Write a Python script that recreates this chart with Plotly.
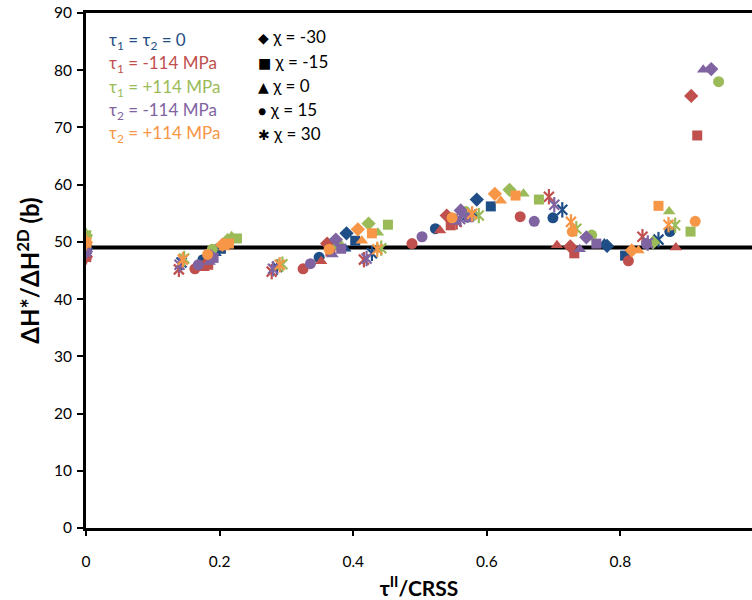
import plotly.graph_objects as go

# ---------------- data ----------------
CHI = [-30, -15, 0, 15, 30]
REF_LEVEL = 49

blue_x = [[0, 0.195, 0.39, 0.585, 0.78],
          [0, 0.202, 0.403, 0.606, 0.807],
          [0, 0.194, 0.388, 0.582, 0.776],
          [0, 0.175, 0.349, 0.523, 0.699, 0.874],
          [0, 0.143, 0.286, 0.428, 0.571, 0.713, 0.857]]
blue_y = [[48.8, 48.5, 51.5, 57.4, 49.3],
          [48.8, 48.8, 50.2, 56.2, 47.6],
          [48.8, 48.0, 48.8, 54.8, 49.7],
          [48.8, 46.9, 47.3, 52.3, 54.2, 51.8],
          [48.8, 46.4, 45.6, 48.0, 54.7, 55.6, 50.4]]

red_x = [[0, 0.181, 0.361, 0.54, 0.725, 0.906],
         [0, 0.183, 0.366, 0.546, 0.731, 0.915],
         [0, 0.176, 0.352, 0.53, 0.705, 0.883],
         [0, 0.163, 0.325, 0.488, 0.65, 0.812],
         [0, 0.139, 0.278, 0.416, 0.555, 0.693, 0.833]]
red_y = [[47.4, 46.3, 49.7, 54.6, 49.2, 75.5],
         [47.4, 46.0, 48.3, 52.9, 48.0, 68.6],
         [47.4, 45.4, 46.6, 52.0, 49.4, 49.0],
         [47.4, 45.3, 45.3, 49.7, 54.4, 46.7],
         [47.4, 45.2, 44.8, 46.9, 53.5, 57.9, 50.9]]

green_x = [[0, 0.212, 0.423, 0.634, 0.849],
           [0, 0.226, 0.452, 0.678, 0.905],
           [0, 0.218, 0.437, 0.655, 0.873],
           [0, 0.189, 0.378, 0.568, 0.757, 0.947],
           [0, 0.147, 0.294, 0.442, 0.588, 0.734, 0.882]]
green_y = [[51.1, 50.3, 53.2, 59.1, 49.9],
           [51.1, 50.6, 53.0, 57.4, 51.8],
           [51.1, 51.0, 51.6, 58.4, 55.3],
           [51.1, 48.7, 49.5, 55.3, 51.2, 78.0],
           [51.1, 47.1, 46.1, 48.9, 54.6, 52.3, 52.9]]

purple_x = [[0, 0.187, 0.374, 0.561, 0.749, 0.936],
            [0, 0.191, 0.382, 0.573, 0.764],
            [0, 0.185, 0.369, 0.554, 0.739, 0.924],
            [0, 0.168, 0.336, 0.503, 0.671, 0.839],
            [0, 0.14, 0.28, 0.42, 0.56, 0.701, 0.841]]
purple_y = [[48.3, 47.5, 50.4, 55.5, 50.8, 80.2],
            [48.3, 47.2, 48.8, 54.3, 49.7],
            [48.3, 46.5, 47.8, 53.5, 48.7, 80.1],
            [48.3, 46.0, 46.2, 50.9, 53.6, 49.7],
            [48.3, 46.0, 45.3, 47.1, 54.0, 56.5, 49.8]]

orange_x = [[0, 0.204, 0.407, 0.612, 0.817],
            [0, 0.214, 0.428, 0.643, 0.857],
            [0, 0.207, 0.413, 0.621, 0.827],
            [0, 0.182, 0.364, 0.548, 0.728, 0.912],
            [0, 0.145, 0.29, 0.436, 0.578, 0.726, 0.872]]
orange_y = [[49.9, 49.5, 52.2, 58.4, 48.5],
            [49.9, 49.7, 51.5, 58.1, 56.3],
            [49.9, 49.0, 50.2, 57.2, 48.5],
            [49.9, 47.8, 48.7, 54.2, 51.8, 53.6],
            [49.9, 46.9, 46.0, 48.7, 54.9, 53.5, 53.0]]

CASE_LABELS = ["τ<sub>1</sub> = τ<sub>2</sub> = 0",
               "τ<sub>1</sub> = -114 MPa",
               "τ<sub>1</sub> = +114 MPa",
               "τ<sub>2</sub> = -114 MPa",
               "τ<sub>2</sub> = +114 MPa"]
CHI_GLYPHS = ["◆", "■", "▲", "●", "✱"]
X_TICKS = [0, 0.2, 0.4, 0.6, 0.8]
X_TICK_TEXT = ["0", "0.2", "0.4", "0.6", "0.8"]
Y_TICKS = [0, 10, 20, 30, 40, 50, 60, 70, 80, 90]

# ---------------- styles ----------------
COLORS = ["#1F4E86", "#C0504D", "#9BBB59", "#8064A2", "#F79646"]
SERIES = [(blue_x, blue_y), (red_x, red_y), (green_x, green_y),
          (purple_x, purple_y), (orange_x, orange_y)]
SYMBOLS = {-30: ("diamond", 11), -15: ("square", 10), 0: ("triangle-up", 11),
           15: ("circle", 11)}
FONT = "Lato, Open Sans, DejaVu Sans, sans-serif"

fig = go.Figure()

# reference line
fig.add_trace(go.Scatter(x=[0, 1.0], y=[REF_LEVEL, REF_LEVEL], mode="lines",
                         line=dict(color="black", width=4), hoverinfo="skip",
                         showlegend=False))

for (sx, sy), col, lab in zip(SERIES, COLORS, CASE_LABELS):
    for k, chi in enumerate(CHI):
        if chi in SYMBOLS:
            sym, sz = SYMBOLS[chi]
            fig.add_trace(go.Scatter(x=sx[k], y=sy[k], mode="markers",
                                     marker=dict(symbol=sym, size=sz, color=col,
                                                 line=dict(width=0)),
                                     showlegend=False))
        else:
            fig.add_trace(go.Scatter(x=sx[k], y=sy[k], mode="markers",
                                     marker=dict(symbol="x-thin-open", size=10,
                                                 color=col,
                                                 line=dict(width=2.2, color=col)),
                                     showlegend=False))
            fig.add_trace(go.Scatter(x=sx[k], y=sy[k], mode="markers",
                                     marker=dict(symbol="line-ns-open", size=11,
                                                 color=col,
                                                 line=dict(width=2.2, color=col)),
                                     showlegend=False))

# ---------------- text legends ----------------
L, H, W, B = 86, 515, 666, 528  # plot geometry in pixels (for annotation placement)
case_rows = [41, 64, 87.5, 110.5, 133.5]
for lab, col, py in zip(CASE_LABELS, COLORS, case_rows):
    fig.add_annotation(x=(107 - L) / W, y=(B - py) / H, xref="paper", yref="paper",
                       text=lab, showarrow=False, xanchor="left", yanchor="middle",
                       font=dict(family=FONT, size=17, color=col))
chi_rows = [36.5, 61.5, 86, 110, 133.5]
for g, chi, py in zip(CHI_GLYPHS, CHI, chi_rows):
    fig.add_annotation(x=(256 - L) / W, y=(B - py) / H, xref="paper", yref="paper",
                       text=f"<span style='font-size:14px'>{g}</span> χ = {chi}",
                       showarrow=False, xanchor="left",
                       yanchor="middle", font=dict(family=FONT, size=17, color="black"))

fig.update_layout(
    width=752, height=600,
    margin=dict(l=86, r=0, t=13, b=72),
    plot_bgcolor="white", paper_bgcolor="white",
    showlegend=False,
    font=dict(family=FONT, size=15, color="black"),
)
fig.update_xaxes(range=[0, 0.997], tickvals=X_TICKS, ticktext=X_TICK_TEXT,
                 showgrid=False, zeroline=False,
                 showline=True, linecolor="black", linewidth=3, mirror=True,
                 ticks="outside", ticklen=5, tickwidth=2, tickcolor="black",
                 ticklabelstandoff=12,
                 tickfont=dict(family=FONT, size=15.5, color="black"),
                 title=dict(text="<b>τ<sup>II</sup>/CRSS</b>", standoff=13,
                            font=dict(family=FONT, size=21, color="black")))
fig.update_yaxes(range=[0, 90], tickvals=Y_TICKS, showgrid=False, zeroline=False,
                 showline=True, linecolor="black", linewidth=3,
                 ticks="outside", ticklen=6, tickwidth=2, tickcolor="black",
                 ticklabelstandoff=2,
                 tickfont=dict(family=FONT, size=15.5, color="black"),
                 title=dict(text="<b>ΔH*/ΔH<sup>2D</sup> (b)</b>", standoff=8,
                            font=dict(family=FONT, size=24, color="black")))

fig.write_html("out.html")
